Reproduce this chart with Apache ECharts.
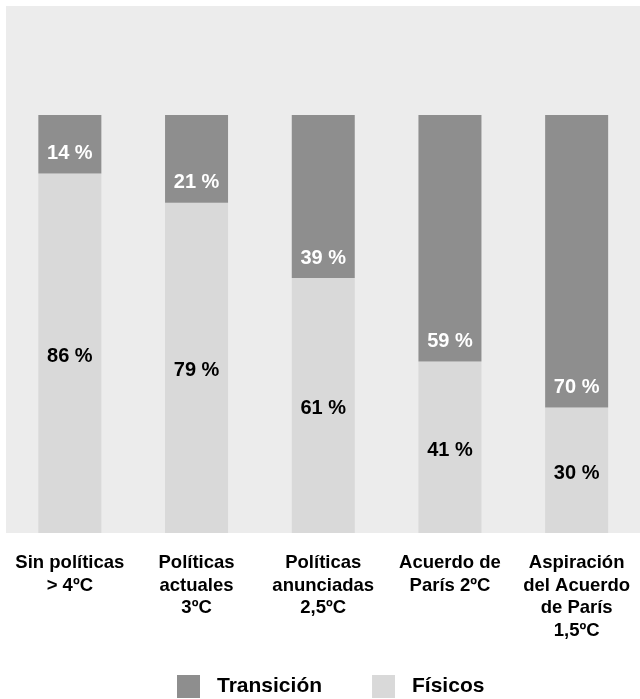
<!DOCTYPE html>
<html><head><meta charset="utf-8">
<script src="https://cdn.jsdelivr.net/npm/echarts@6/dist/echarts.min.js"></script>
<style>html,body{margin:0;padding:0;background:#fff}#c{width:640px;height:699px}</style>
</head><body><div id="c"></div>
<script>
const categories = ['Sin políticas\n> 4ºC', 'Políticas\nactuales\n3ºC', 'Políticas\nanunciadas\n2,5ºC', 'Acuerdo de\nParís 2ºC', 'Aspiración\ndel Acuerdo\nde París\n1,5ºC'];
const transicion = [14, 21, 39, 59, 70];
const fisicos = [86, 79, 61, 41, 30];
const seriesNames = ['Transición', 'Físicos'];

const FONT = "'Liberation Sans', Arial, sans-serif";
const chart = echarts.init(document.getElementById('c'), null, {renderer: 'canvas'});
chart.setOption({
  animation: false,
  backgroundColor: '#ffffff',
  graphic: {elements: [{type: 'rect', z: -10, silent: true, shape: {x: 6, y: 6, width: 634, height: 527}, style: {fill: '#ececec'}}]},
  grid: {left: 6.5, width: 640, top: 115, height: 418, containLabel: false},
  legend: {
    data: seriesNames, top: 675, left: 177, padding: 0,
    itemWidth: 23, itemHeight: 23, itemGap: 50, icon: 'rect',
    textStyle: {fontFamily: FONT, fontSize: 21, fontWeight: 'bold', color: '#000', padding: [0, 0, 6, 12]},
    formatter: n => n
  },
  xAxis: {
    type: 'category', data: categories,
    axisLine: {show: false}, axisTick: {show: false},
    axisLabel: {interval: 0, margin: 19, fontFamily: FONT, fontSize: 18.5, fontWeight: 'bold', color: '#000', lineHeight: 22.5, align: 'center'}
  },
  yAxis: {type: 'value', min: 0, max: 100, show: false, splitLine: {show: false}},
  series: [
    {name: 'Físicos', type: 'bar', stack: 's', data: fisicos, barWidth: 63,
     itemStyle: {color: '#d9d9d9'},
     label: {show: true, position: 'inside', formatter: '{c} %', fontFamily: FONT, fontSize: 20, fontWeight: 'bold', color: '#000', offset: [0, 3]}},
    {name: 'Transición', type: 'bar', stack: 's', data: transicion, barWidth: 63,
     itemStyle: {color: '#8e8e8e'},
     label: {show: true, position: 'insideBottom', distance: 10, formatter: '{c} %', fontFamily: FONT, fontSize: 20, fontWeight: 'bold', color: '#fff'}}
  ]
});
</script></body></html>
